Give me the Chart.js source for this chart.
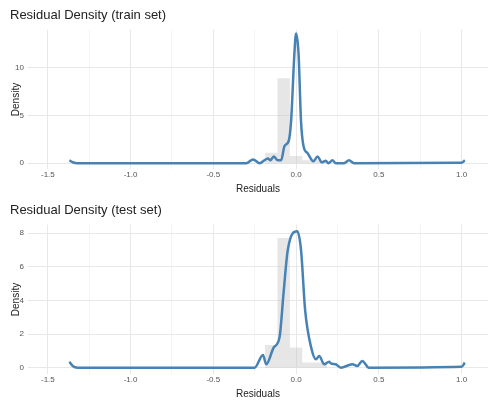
<!DOCTYPE html><html><head><script src="https://cdn.jsdelivr.net/npm/chart.js@4"></script>
<style>body{margin:0;background:#fff}div{width:500px;height:195px;position:relative}</style></head><body>
<div><canvas id="c1"></canvas></div><div style="height:205px"><canvas id="c2"></canvas></div>
<script>
const xTicks=[-1.5,-1.25,-1.0,-0.75,-0.5,-0.25,0,0.25,0.5,0.75,1.0];
const xLabels={"-1.5":"-1.5","-1":"-1.0","-0.5":"-0.5","0":"0.0","0.5":"0.5","1":"1.0"};
const binEdges=[-0.1875,-0.1125,-0.0375,0.0375,0.1125,0.1875];
const trainHist=[0.3,1.1,8.9,0.75,0.3];
const testHist=[0.3,1.35,7.7,1.2,0.3];
const trainX=[-1.37,-1.35,-1.32,-0.3,-0.26,-0.22,-0.17,-0.155,-0.135,-0.11,-0.09,-0.07,-0.045,-0.03,-0.01,0,0.015,0.03,0.045,0.07,0.105,0.13,0.155,0.18,0.195,0.22,0.24,0.29,0.32,0.35,1.0,1.02];
const trainY=[0.3,0.1,0,0,0.4,0,0.5,0.3,0.7,0.3,0.3,1.8,2.3,4.4,11.5,13.6,11.5,4.4,1.8,1.05,0.2,0.7,0.1,0.25,0,0.3,0,0,0.3,0,0.05,0.3];
const testX=[-1.37,-1.35,-1.32,-0.27,-0.25,-0.2,-0.18,-0.135,-0.1,-0.075,-0.05,0.007,0.03,0.055,0.09,0.12,0.14,0.17,0.2,0.21,0.24,0.27,0.34,0.37,0.4,0.44,1.0,1.02];
const testY=[0.35,0.1,0,0,0,0.75,0.2,1.2,1.8,4.5,7.0,8.1,7.0,3.4,1.25,0.5,0.7,0.2,0.35,0.25,0.2,0,0.2,0.1,0.4,0,0.05,0.3];
const trainYTicks=[0,5,10], testYTicks=[0,2,4,6,8];
function histPts(h){const p=[];h.forEach((v,i)=>{p.push({x:binEdges[i],y:v});});p.push({x:binEdges[h.length],y:h[h.length-1]});return p;}
function make(id,title,xs,ys,hist,yt,ymin,ymax){
 new Chart(document.getElementById(id),{type:'line',data:{datasets:[
  {data:histPts(hist),stepped:'after',fill:'origin',backgroundColor:'rgba(200,200,200,0.45)',borderColor:'rgba(0,0,0,0)',borderWidth:0,pointRadius:0,order:2},
  {data:xs.map((x,i)=>({x,y:ys[i]})),borderColor:'#4682B4',borderWidth:2.5,tension:0.35,pointRadius:0,fill:false,cubicInterpolationMode:'monotone',order:1}]},
 options:{animation:false,responsive:true,maintainAspectRatio:false,layout:{padding:{right:12,top:0,left:10}},
  plugins:{legend:{display:false},tooltip:{enabled:false},title:{display:true,text:title,align:'start',color:'#222',font:{family:'Liberation Sans',size:13,weight:'normal'},padding:{top:8,bottom:6}}},
  scales:{x:{type:'linear',min:-1.62,max:1.16,afterBuildTicks:a=>{a.ticks=xTicks.map(v=>({value:v}))},
    ticks:{autoSkip:false,maxRotation:0,color:'#555',font:{size:8,family:'Liberation Sans'},padding:1,callback:v=>xLabels[String(v)]??''},
    grid:{color:c=>xLabels[String(c.tick.value)]!==undefined?'#e8e8e8':'#f4f4f4',drawTicks:false},border:{display:false},
    title:{display:true,text:'Residuals',color:'#222',font:{size:10,family:'Liberation Sans'},padding:{top:2,bottom:0}}},
   y:{min:ymin,max:ymax,afterBuildTicks:a=>{a.ticks=yt.map(v=>({value:v}))},afterFit:s=>{s.width=18},
    ticks:{color:'#555',font:{size:8,family:'Liberation Sans'},padding:4},grid:{color:'#e8e8e8',drawTicks:false},border:{display:false},
    title:{display:true,text:'Density',color:'#222',font:{size:10,family:'Liberation Sans'},padding:{top:0,bottom:0}}}}}});
}
make('c1','Residual Density (train set)',trainX,trainY,trainHist,trainYTicks,-0.65,14.0);
make('c2','Residual Density (test set)',testX,testY,testHist,testYTicks,-0.4,8.5);
</script></body></html>
